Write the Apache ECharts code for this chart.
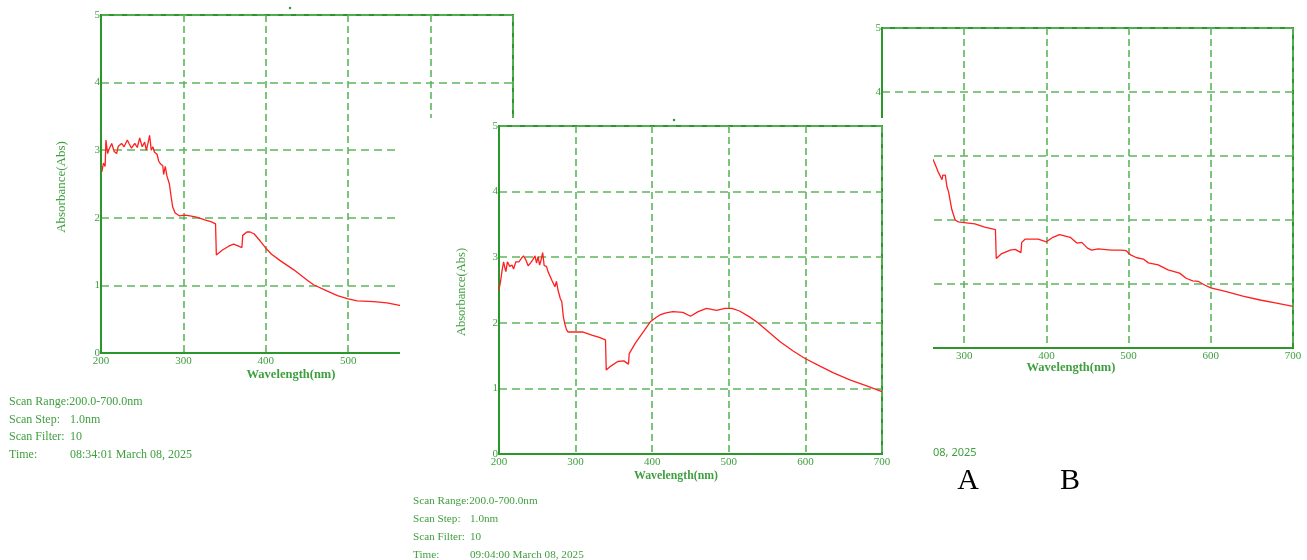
<!DOCTYPE html>
<html>
<head>
<meta charset="utf-8">
<title>UV-Vis absorbance scans</title>
<script src="https://cdn.jsdelivr.net/npm/echarts@6.0.0/dist/echarts.min.js"></script>
<style>
  html, body { margin: 0; padding: 0; background: #ffffff; }
  #chart { width: 1307px; height: 560px; }
</style>
</head>
<body>
<div id="chart"></div>
<script>
// ---- Scan 1 (08:34:01) ----
const wl1 = [201, 203, 205, 206, 208, 210, 213, 216, 219, 221, 225, 228, 232, 234, 237, 241, 244, 247, 250, 253,
  255, 257, 259, 261, 263, 265, 268, 270, 272, 275, 276, 278, 280, 283, 285, 287, 290, 295, 302, 308,
  316, 326, 334, 339, 340, 347, 355, 361, 367, 371, 372, 377, 381, 386, 393, 400, 407, 417, 434, 450,
  458, 474, 487, 500, 511, 531, 547, 564];
const abs1 = [2.68, 2.81, 2.76, 3.15, 2.95, 3.02, 3.10, 2.98, 2.95, 3.06, 3.10, 3.05, 3.15, 3.10, 3.03, 3.10, 3.04, 3.18, 3.05, 3.12,
  3.00, 3.10, 3.22, 3.00, 3.05, 2.97, 2.94, 2.84, 2.80, 2.77, 2.64, 2.76, 2.62, 2.50, 2.32, 2.16, 2.07, 2.03, 2.04, 2.03,
  2.01, 1.97, 1.94, 1.91, 1.45, 1.52, 1.58, 1.61, 1.58, 1.56, 1.74, 1.79, 1.79, 1.76, 1.66, 1.55, 1.46, 1.37, 1.23, 1.08,
  1.01, 0.92, 0.85, 0.80, 0.77, 0.76, 0.74, 0.70];

// ---- Scan 2 (09:04:00) ----
const wl2 = [200, 202, 204, 206, 208, 209, 211, 214, 217, 219, 222, 226, 229, 232, 235, 238, 241, 244, 247, 249,
  251, 253, 255, 257, 259, 262, 264, 266, 269, 271, 273, 275, 277, 280, 282, 284, 286, 288, 290, 296,
  309, 322, 330, 339, 340, 346, 355, 363, 369, 370, 378, 387, 398, 405, 410, 418, 427, 440, 450, 460,
  471, 484, 495, 504, 514, 527, 538, 549, 567, 584, 599, 619, 636, 658, 680, 700];
const abs2 = [2.50, 2.63, 2.80, 2.93, 2.82, 2.78, 2.93, 2.86, 2.88, 2.82, 2.93, 2.93, 2.98, 3.02, 2.96, 2.87, 2.91, 2.96, 3.02, 2.91,
  3.01, 2.88, 2.96, 3.07, 2.87, 2.86, 2.78, 2.80, 2.65, 2.63, 2.55, 2.63, 2.50, 2.37, 2.32, 2.09, 1.98, 1.90, 1.86, 1.86,
  1.86, 1.81, 1.78, 1.74, 1.28, 1.34, 1.41, 1.42, 1.37, 1.53, 1.69, 1.84, 2.02, 2.08, 2.12, 2.15, 2.17, 2.16, 2.10, 2.17,
  2.22, 2.19, 2.22, 2.22, 2.18, 2.09, 2.00, 1.89, 1.71, 1.57, 1.46, 1.34, 1.24, 1.13, 1.04, 0.95];

// ---- Scan 3 ----
const wl3 = [262, 264, 266, 268, 270, 273, 274, 277, 279, 281, 285, 289, 293, 300, 313, 325, 338, 339, 345, 356,
  362, 369, 370, 374, 390, 400, 408, 416, 429, 437, 443, 450, 455, 463, 479, 491, 497, 503, 510, 518,
  524, 536, 548, 562, 570, 578, 585, 593, 600, 619, 639, 660, 680, 700];
const abs3 = [2.95, 2.89, 2.90, 2.76, 2.73, 2.63, 2.70, 2.70, 2.52, 2.44, 2.16, 2.00, 1.97, 1.96, 1.94, 1.89, 1.85, 1.40, 1.47, 1.53,
  1.54, 1.49, 1.65, 1.70, 1.70, 1.66, 1.73, 1.77, 1.73, 1.64, 1.65, 1.56, 1.53, 1.55, 1.53, 1.53, 1.52, 1.45, 1.41, 1.39,
  1.33, 1.30, 1.22, 1.17, 1.09, 1.05, 1.04, 0.98, 0.94, 0.88, 0.81, 0.75, 0.70, 0.65];

// Axis ranges shared by every scan
const xMin = 200, xMax = 700, xStep = 100;
const yMin = 0, yMax = 5, yStep = 1;

const AXIS_GREEN = '#2b962b';
const GRID_GREEN = '#5db65d';
const TEXT_GREEN = '#3e9f3e';
const SERIF = '"Liberation Serif", "DejaVu Serif", serif';

const pairs = (xs, ys) => xs.map((x, i) => [x, ys[i]]);

// Plot frames (pixel boxes) of the three scan windows; the second window sits on top.
const frames = [
  { left: 101, top: 15, width: 412, height: 338, z: 0 },
  { left: 499, top: 126, width: 383, height: 328, z: 2 },
  { left: 882, top: 28, width: 411, height: 320, z: 0 }
];

const grids = frames.map(f => ({
  left: f.left, top: f.top, width: f.width, height: f.height,
  show: true, borderColor: AXIS_GREEN, borderWidth: 2,
  backgroundColor: 'rgba(0,0,0,0)', zlevel: f.z
}));

const xAxes = frames.map((f, i) => ({
  type: 'value', gridIndex: i, min: xMin, max: xMax, interval: xStep, zlevel: f.z,
  axisLine: { show: true, onZero: false, lineStyle: { color: AXIS_GREEN, width: 2 } },
  axisTick: { show: false },
  splitLine: { show: true, lineStyle: { color: GRID_GREEN, width: 1.6, type: [7, 4] } },
  axisLabel: { color: TEXT_GREEN, fontFamily: SERIF, fontSize: 11, margin: 3 }
}));

const yAxes = frames.map((f, i) => ({
  type: 'value', gridIndex: i, min: yMin, max: yMax, interval: yStep, zlevel: f.z,
  axisLine: { show: true, lineStyle: { color: AXIS_GREEN, width: 2 } },
  axisTick: { show: false },
  splitLine: { show: true, lineStyle: { color: GRID_GREEN, width: 1.6, type: [8, 5] } },
  axisLabel: { color: TEXT_GREEN, fontFamily: SERIF, fontSize: 11, margin: 1,
    verticalAlign: 'middle', padding: [0, 0, 7, 0] }
}));

const scans = [pairs(wl1, abs1), pairs(wl2, abs2), pairs(wl3, abs3)];
const series = scans.map((d, i) => ({
  type: 'line', xAxisIndex: i, yAxisIndex: i, data: d, zlevel: frames[i].z,
  showSymbol: false, symbol: 'none', silent: true,
  lineStyle: { color: '#ff1f1f', width: 1.3 }
}));

function txt(x, y, text, opts) {
  const o = opts || {};
  return {
    type: 'text', x: x, y: y, zlevel: o.zlevel || 0, z: 10, rotation: o.rotation || 0, silent: true,
    style: {
      text: text, fill: o.color || TEXT_GREEN,
      fontFamily: o.family || SERIF, fontSize: o.size || 12, fontWeight: o.weight || 'normal',
      align: o.align || 'left', verticalAlign: 'middle'
    }
  };
}

const infoLabels = ['Scan Step:', 'Scan Filter:', 'Time:'];
const info1 = ['1.0nm', '10', '08:34:01 March 08, 2025'];
const info2 = ['1.0nm', '10', '09:04:00 March 08, 2025'];

const graphics = [
  // white sheet of the front window hiding the windows behind it
  { type: 'rect', zlevel: 1, silent: true, shape: { x: 400, y: 118, width: 533, height: 442 }, style: { fill: '#ffffff' } },

  // window 1 captions
  { type: 'circle', zlevel: 0, silent: true, shape: { cx: 290, cy: 8, r: 1.2 }, style: { fill: AXIS_GREEN } },
  txt(62, 187, 'Absorbance(Abs)', { rotation: Math.PI / 2, align: 'center', size: 13 }),
  txt(291, 375, 'Wavelength(nm)', { align: 'center', size: 12.5, weight: 'bold' }),
  txt(9, 401.5, 'Scan Range:200.0-700.0nm'),
  ...infoLabels.map((t, i) => txt(9, 419.5 + i * 17.7, t)),
  ...info1.map((t, i) => txt(70, 419.5 + i * 17.7, t)),

  // window 3 captions
  txt(1071, 368, 'Wavelength(nm)', { align: 'center', size: 12.5, weight: 'bold' }),
  txt(933, 452.5, '08, 2025', { family: '"Noto Sans", sans-serif', size: 11 }),

  // window 2 captions (front)
  { type: 'circle', zlevel: 2, silent: true, shape: { cx: 674, cy: 120, r: 1.2 }, style: { fill: AXIS_GREEN } },
  txt(462, 292, 'Absorbance(Abs)', { rotation: Math.PI / 2, align: 'center', size: 12.5, zlevel: 2 }),
  txt(676, 476, 'Wavelength(nm)', { align: 'center', size: 11.8, weight: 'bold', zlevel: 2 }),
  txt(413, 501.5, 'Scan Range:200.0-700.0nm', { zlevel: 2, size: 11.2 }),
  ...infoLabels.map((t, i) => txt(413, 519.5 + i * 17.7, t, { zlevel: 2, size: 11.2 })),
  ...info2.map((t, i) => txt(470, 519.5 + i * 17.7, t, { zlevel: 2, size: 11.2 })),

  // panel letters
  txt(968, 481, 'A', { color: '#000000', size: 30, align: 'center', zlevel: 2 }),
  txt(1070, 481, 'B', { color: '#000000', size: 30, align: 'center', zlevel: 2 })
];

const chart = echarts.init(document.getElementById('chart'), null, { renderer: 'canvas' });
chart.setOption({
  backgroundColor: '#ffffff',
  animation: false,
  grid: grids,
  xAxis: xAxes,
  yAxis: yAxes,
  series: series,
  graphic: { elements: graphics }
});
</script>
</body>
</html>
